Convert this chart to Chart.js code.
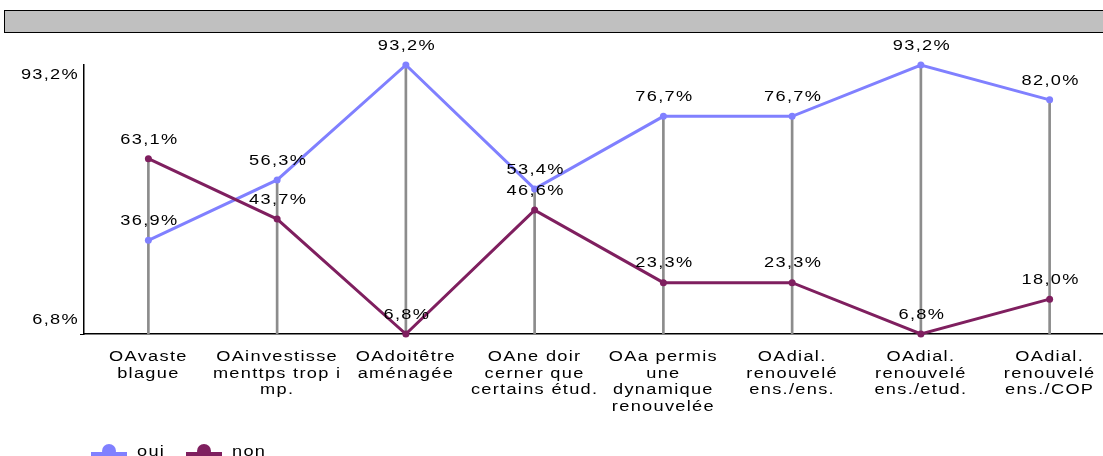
<!DOCTYPE html>
<html>
<head>
<meta charset="utf-8">
<script src="https://cdn.jsdelivr.net/npm/chart.js@4/dist/chart.umd.min.js"></script>
<style>
  html, body { margin: 0; padding: 0; background: #fff; overflow: hidden; width: 1103px; height: 456px; }
  #titlebox { position: absolute; left: 4px; top: 10px; width: 1200px; height: 21px; background: #c0c0c0; border: 1.5px solid #000; }
  #wrap { position: absolute; left: 0; top: 0; width: 1118px; height: 456px; }
</style>
</head>
<body>
<div id="titlebox"></div>
<div id="wrap"><canvas id="c"></canvas></div>
<script>
const categories = [
  ["OAvaste", "blague"],
  ["OAinvestisse", "menttps trop i", "mp."],
  ["OAdoitêtre", "aménagée"],
  ["OAne doir", "cerner que", "certains étud."],
  ["OAa permis", "une", "dynamique", "renouvelée"],
  ["OAdial.", "renouvelé", "ens./ens."],
  ["OAdial.", "renouvelé", "ens./etud."],
  ["OAdial.", "renouvelé", "ens./COP"]
];
const seriesNames = ["oui", "non"];
const ouiValues = [36.9, 56.3, 93.2, 53.4, 76.7, 76.7, 93.2, 82.0];
const nonValues = [63.1, 43.7, 6.8, 46.6, 23.3, 23.3, 6.8, 18.0];
const yTickValues = [6.8, 93.2];
const yTickLabels = ["6,8%", "93,2%"];

const ouiColor = '#8080ff';
const nonColor = '#7f1f5f';
const FAMILY = '"Liberation Sans", Arial, sans-serif';
const FONT = '14px ' + FAMILY;
const SPACING = '1px';
const STRETCH = 1.3;

const dropLines = ouiValues.map((v, i) => [yTickValues[0], Math.max(v, nonValues[i])]);
const fmt = v => v.toFixed(1).replace('.', ',') + '%';

// Text in the reference is horizontally stretched; emulate it by scaling each fillText around its anchor.
const stretchPlugin = {
  id: 'stretch',
  beforeInit(chart) {
    const ctx = chart.ctx;
    const orig = ctx.fillText.bind(ctx);
    ctx.fillText = function (text, x, y, maxWidth) {
      this.save();
      this.letterSpacing = SPACING;
      this.translate(x, y);
      this.scale(STRETCH, 1);
      orig(text, 0, 0);
      this.restore();
    };
  }
};

const labelsPlugin = {
  id: 'valueLabels',
  afterDatasetsDraw(chart) {
    const ctx = chart.ctx;
    ctx.save();
    ctx.font = FONT;
    ctx.fillStyle = '#000';
    ctx.textAlign = 'center';
    ctx.textBaseline = 'middle';
    [0, 1].forEach(di => {
      const meta = chart.getDatasetMeta(di);
      const data = chart.data.datasets[di].data;
      meta.data.forEach((pt, i) => {
        ctx.fillText(fmt(data[i]), pt.x + 1, pt.y - 19);
      });
    });
    // y axis labels
    const ys = chart.scales.y;
    ctx.textAlign = 'right';
    const offs = [-14, 10];
    yTickValues.forEach((v, i) => {
      ctx.fillText(yTickLabels[i], ys.right - 5, ys.getPixelForValue(v) + offs[i]);
    });
    // legend
    const ly = 454;
    let lx = 91;
    [ouiColor, nonColor].forEach((col, i) => {
      ctx.fillStyle = col;
      ctx.fillRect(lx, ly - 2, 36, 6);
      ctx.beginPath();
      ctx.arc(lx + 18, ly - 3, 7, 0, Math.PI * 2);
      ctx.fill();
      ctx.fillStyle = '#000';
      ctx.textAlign = 'left';
      ctx.fillText(seriesNames[i], lx + 46, ly - 2);
      lx += 95;
    });
    ctx.restore();
  }
};

new Chart(document.getElementById('c'), {
  data: {
    labels: categories,
    datasets: [
      {
        type: 'line', label: seriesNames[0], data: ouiValues,
        borderColor: ouiColor, backgroundColor: ouiColor, borderWidth: 3,
        pointRadius: 3.5, pointBackgroundColor: ouiColor, pointBorderWidth: 0,
        tension: 0, clip: false, order: 2
      },
      {
        type: 'line', label: seriesNames[1], data: nonValues,
        borderColor: nonColor, backgroundColor: nonColor, borderWidth: 3,
        pointRadius: 3.5, pointBackgroundColor: nonColor, pointBorderWidth: 0,
        tension: 0, clip: false, order: 1
      },
      {
        type: 'bar', label: 'drop', data: dropLines,
        backgroundColor: '#8c8c8c', barThickness: 2, order: 3
      }
    ]
  },
  options: {
    responsive: true,
    maintainAspectRatio: false,
    animation: false,
    layout: { padding: { top: 65, right: 2, left: 0, bottom: 0 } },
    plugins: { legend: { display: false }, tooltip: { enabled: false } },
    scales: {
      x: {
        offset: true,
        grid: { display: false },
        border: { display: true, color: '#000', width: 1.5 },
        ticks: {
          color: '#000', font: { family: FAMILY, size: 14, lineHeight: 1.18 },
          maxRotation: 0, minRotation: 0, autoSkip: false, padding: 7
        },
        afterFit(s) { s.height = 122; }
      },
      y: {
        min: yTickValues[0], max: yTickValues[1],
        afterBuildTicks(s) { s.ticks = yTickValues.map(v => ({ value: v })); },
        grid: {
          display: true, drawOnChartArea: false, tickLength: 4, lineWidth: 1,
          color: c => (c.tick && c.tick.value === yTickValues[0]) ? '#000' : 'rgba(0,0,0,0)'
        },
        border: { display: true, color: '#000', width: 1.5 },
        ticks: { display: false },
        afterFit(s) { s.width = 84; }
      }
    }
  },
  plugins: [stretchPlugin, labelsPlugin]
});
</script>
</body>
</html>
